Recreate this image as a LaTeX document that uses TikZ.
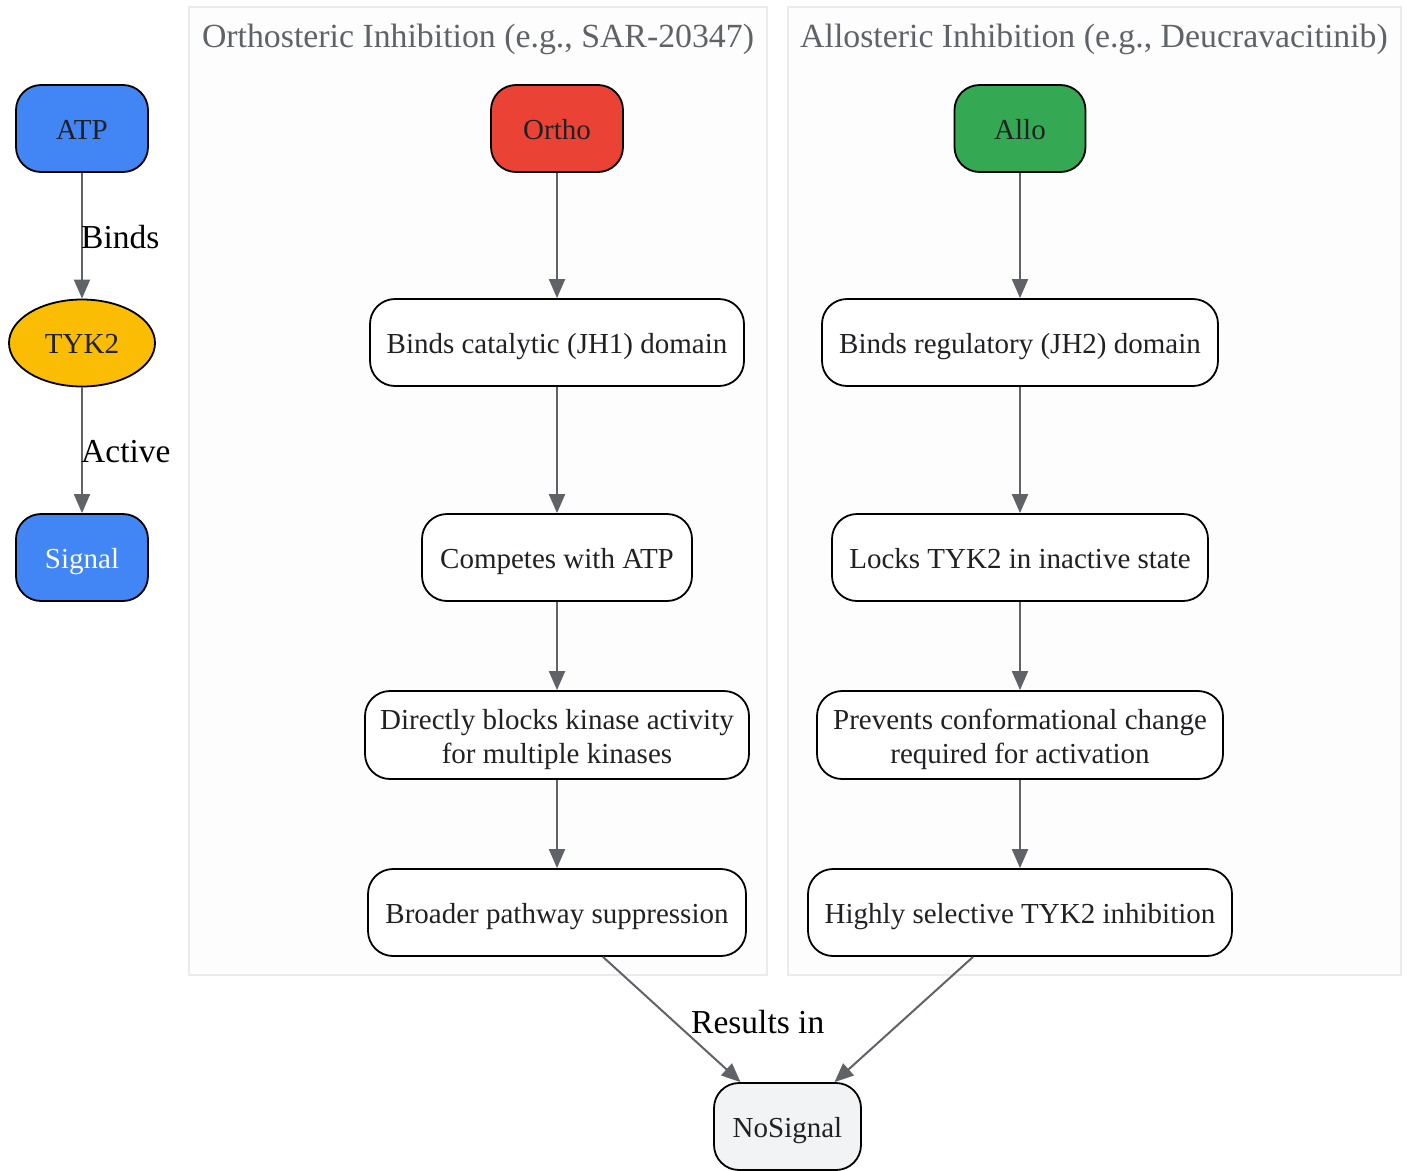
\documentclass[tikz,border=0pt]{standalone}
\usepackage{fontspec}
\setmainfont{Liberation Serif}
\usetikzlibrary{arrows.meta,shapes.geometric}
\definecolor{gblue}{HTML}{4285F4}
\definecolor{gyellow}{HTML}{FBBC04}
\definecolor{gred}{HTML}{EA4335}
\definecolor{ggreen}{HTML}{34A853}
\definecolor{ggrey}{HTML}{F1F3F4}
\definecolor{edgec}{HTML}{5F6368}
\definecolor{txt}{HTML}{202124}
\definecolor{clfill}{HTML}{FDFDFD}
\definecolor{cldraw}{HTML}{EBEBEB}
\begin{document}
\begin{tikzpicture}[x=1pt,y=-1pt,
  box/.style={draw=black,line width=1.8pt,rounded corners=25pt,font=\fontsize{29}{34}\selectfont,text=txt,align=center,inner sep=0pt,text height=28pt,text depth=6.3pt},
  twoline/.style={text height=64pt,text depth=6.3pt},
  oval/.style={draw=black,line width=1.8pt,ellipse,font=\fontsize{29}{34}\selectfont,text=txt,inner sep=0pt,text height=28pt,text depth=6.3pt},
  cluster/.style={draw=cldraw,fill=clfill,line width=1.5pt},
  ctitle/.style={font=\fontsize{33.8}{38}\selectfont,text=edgec},
  elabel/.style={font=\fontsize{33.5}{38}\selectfont,text=black,anchor=west,inner sep=0pt},
  edge/.style={draw=edgec,line width=2pt,-{Triangle[length=19pt,width=16pt]}}]
\useasboundingbox (0,0) rectangle (1407,1170);
% clusters
\draw[cluster] (189,7) rectangle (767,975);
\draw[cluster] (788,7) rectangle (1401,975);
\node[ctitle] (t1) at (478,39.5) {Orthosteric Inhibition (e.g., SAR-20347)};
\node[ctitle] (t2) at (1094,39.5) {Allosteric Inhibition (e.g., Deucravacitinib)};
% left column
\node[box,fill=gblue,minimum width=132pt,minimum height=87pt] (atp) at (82,128.5) {ATP};
\node[oval,fill=gyellow,minimum width=146pt,minimum height=87pt] (tyk) at (82,343) {TYK2};
\node[box,fill=gblue,text=white,minimum width=132pt,minimum height=87pt] (sig) at (82,557.5) {Signal};
% ortho
\node[box,fill=gred,minimum width=132pt,minimum height=87pt] (ortho) at (557,128.5) {Ortho};
\node[box,fill=white,minimum width=374pt,minimum height=87pt] (o1) at (557,342.5) {Binds catalytic (JH1) domain};
\node[box,fill=white,minimum width=270pt,minimum height=87pt] (o2) at (557,557.5) {Competes with ATP};
\node[box,twoline,fill=white,minimum width=384pt,minimum height=88pt] (o3) at (557,735) {Directly blocks kinase activity\\for multiple kinases};
\node[box,fill=white,minimum width=378pt,minimum height=87pt] (o4) at (557,912.5) {Broader pathway suppression};
% allo
\node[box,fill=ggreen,minimum width=131pt,minimum height=87pt] (allo) at (1020,128.5) {Allo};
\node[box,fill=white,minimum width=396pt,minimum height=87pt] (a1) at (1020,342.5) {Binds regulatory (JH2) domain};
\node[box,fill=white,minimum width=376pt,minimum height=87pt] (a2) at (1020,557.5) {Locks TYK2 in inactive state};
\node[box,twoline,fill=white,minimum width=406pt,minimum height=88pt] (a3) at (1020,735) {Prevents conformational change\\required for activation};
\node[box,fill=white,minimum width=424pt,minimum height=87pt] (a4) at (1020,912.5) {Highly selective TYK2 inhibition};
% result
\node[box,fill=ggrey,minimum width=147pt,minimum height=87pt] (nos) at (787.5,1126.5) {NoSignal};
% edges
\draw[edge] (atp) -- (tyk);
\draw[edge] (tyk) -- (sig);
\node[elabel] (lb1) at (81,237) {Binds};
\node[elabel] (lb2) at (81,452) {Active};
\draw[edge] (ortho) -- (o1);
\draw[edge] (o1) -- (o2);
\draw[edge] (o2) -- (o3);
\draw[edge] (o3) -- (o4);
\draw[edge] (allo) -- (a1);
\draw[edge] (a1) -- (a2);
\draw[edge] (a2) -- (a3);
\draw[edge] (a3) -- (a4);
\draw[edge] ([xshift=46pt]o4.south) -- ([xshift=-47pt]nos.north);
\draw[edge] ([xshift=-47pt]a4.south) -- ([xshift=47pt]nos.north);
\node[elabel] (lb3) at (691,1022) {Results in};
\end{tikzpicture}
\end{document}
